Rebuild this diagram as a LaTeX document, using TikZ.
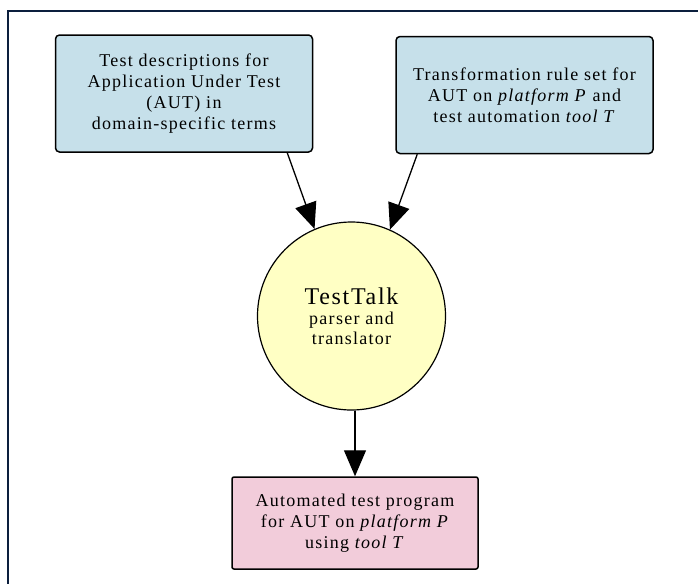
\documentclass[tikz,border=0pt]{standalone}
\usepackage{fontspec}
\setmainfont[LetterSpace=7]{Liberation Serif}
\usetikzlibrary{arrows.meta}

\definecolor{frameblue}{HTML}{0C1F3D}
\definecolor{inblue}{HTML}{C6E0EA}
\definecolor{talkyellow}{HTML}{FFFFC4}
\definecolor{outpink}{HTML}{F2CCDA}

\begin{document}
\begin{tikzpicture}[x=1pt, y=-1pt,
    inbox/.style={draw, line width=1.5pt, rounded corners=4pt, fill=inblue,
      minimum width=257pt, minimum height=117pt, align=center,
      font=\fontsize{18}{21}\selectfont},
    outbox/.style={inbox, fill=outpink, minimum width=246pt, minimum height=92pt,
      rounded corners=2pt},
    conn/.style={line width=1.3pt, -{Triangle[length=26pt, width=22pt]}}]
  \useasboundingbox (0, 0) rectangle (698, 584);
  % frame (top and left only)
  \draw[frameblue, line width=2.5pt] (698, 11) -- (8, 11) -- (8, 584);
  % inputs
  \node[inbox] (desc) at (184, 93.5)
    {Test descriptions for\\Application Under Test\\(AUT) in\\domain-specific terms};
  \node[inbox] (rules) at (524.5, 95)
    {Transformation rule set for\\AUT on \textit{platform P} and\\test automation \textit{tool T}};
  % translator
  \node[draw, circle, line width=1.2pt, fill=talkyellow, minimum size=188pt,
    align=center, font=\fontsize{18}{20}\selectfont] (talk) at (351.5, 316)
    {{\fontsize{24}{27}\selectfont TestTalk}\\parser and\\translator};
  % output
  \node[outbox] (prog) at (355, 523)
    {Automated test program\\for AUT on \textit{platform P}\\using \textit{tool T}};
  % connectors
  \draw[conn] ([xshift=-26pt]desc.south east) -- (talk.113);
  \draw[conn] ([xshift=22pt]rules.south west) -- (talk.66);
  \draw[conn] (talk.south -| prog.north) -- (prog.north);
\end{tikzpicture}
\end{document}
